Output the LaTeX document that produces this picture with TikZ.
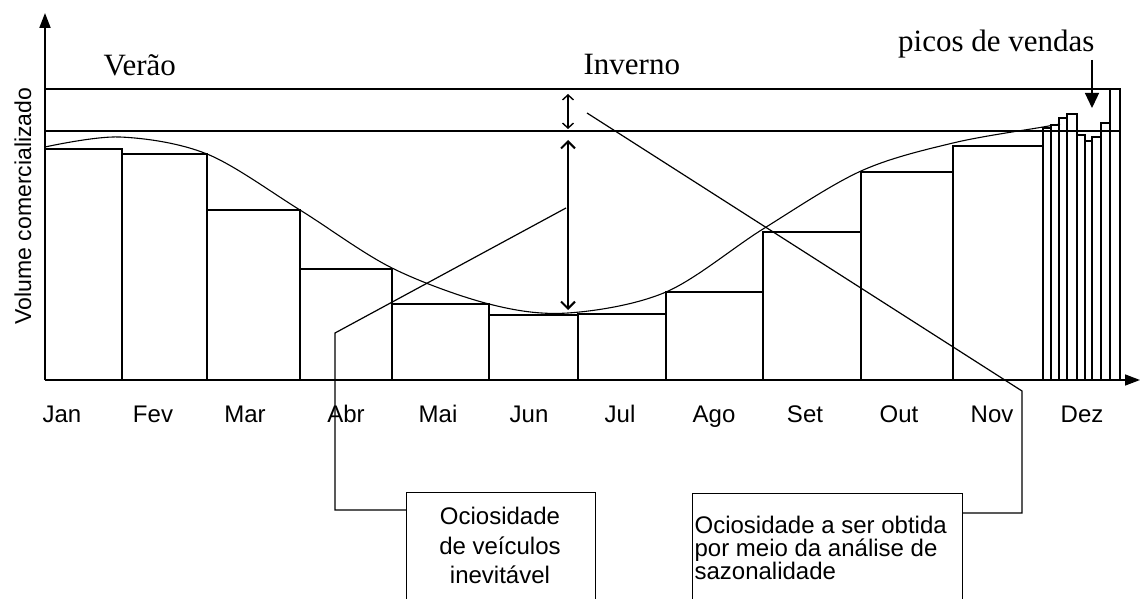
\documentclass[tikz,border=0pt]{standalone}
\usepackage{fontspec}
\setmainfont{Liberation Serif}
\setsansfont{Liberation Sans}
\usetikzlibrary{arrows.meta}
\begin{document}
\begin{tikzpicture}[x=1pt,y=-1pt,line width=1.2pt,
  month/.style={font=\fontsize{24}{24}\selectfont\sffamily,inner sep=0pt,anchor=base},
  boxline/.style={font=\fontsize{24}{24}\selectfont\sffamily,inner sep=0pt},
  season/.style={font=\fontsize{31}{31}\selectfont,inner sep=0pt},
  boxframe/.style={draw,line width=1.2pt,inner sep=0pt,anchor=north west},
  dbl/.style={{Straight Barb[length=5pt,width=11pt]}-{Straight Barb[length=5pt,width=11pt]}},
  tri/.style={-{Triangle[length=15pt,width=11pt]}}]
\useasboundingbox (0,0) rectangle (1140,599);
% bars
\foreach \a/\b/\t in {45/122/149,122/207/154,207/300/210,300/392/269,392/489/304,489/578/315,578/666/314,666/763/292,763/861/232,861/953/172,953/1043/146,1043/1051/128,1051/1059/125,1059/1067/118,1067/1077/114,1077/1085/135,1085/1092/141,1092/1101/137,1101/1110/123,1110/1120/89}
  \draw (\a,380) -- (\a,\t) -- (\b,\t) -- (\b,380);
% horizontal reference lines
\draw (45,89) -- (1120,89);
\draw (45,131) -- (1120,131);
% seasonal curve
\draw[line width=1.1pt] plot[smooth,tension=0.55] coordinates {(45,147) (120,137) (207,154) (300,210) (392,268) (489,304) (568,313) (666,292) (763,229) (861,171) (953,143) (1043,127) (1060,124)};
% axes
\coordinate (o) at (45,380);
\coordinate (ytop) at (45,13);
\coordinate (xend) at (1140,380);
\draw[line width=2pt,tri] (o) -- (ytop);
\draw[line width=1.5pt,tri] (o) -- (xend);
% double arrows
\coordinate (s1) at (568,94); \coordinate (s2) at (568,129);
\coordinate (g1) at (568,140); \coordinate (g2) at (568,310);
\draw[line width=1.4pt,dbl] (s1) -- (s2);
\draw[line width=2pt,{Straight Barb[length=7pt,width=14pt]}-{Straight Barb[length=7pt,width=14pt]}] (g1) -- (g2);
% labels
\node[season,anchor=base west] (verao) at (103,76) {Verão};
\node[season,anchor=base west] (inverno) at (583,75) {Inverno};
\node[season,anchor=base east] (picos) at (1095,52) {picos de vendas};
\coordinate (pa) at (1092,60); \coordinate (pb) at (1092,108);
\draw[line width=1.3pt,-{Triangle[length=15pt,width=14pt]}] (pa) -- (pb);
\node[font=\fontsize{23}{23}\selectfont\sffamily,rotate=90,inner sep=0pt] (ylab) at (23,206) {Volume comercializado};
% months
\foreach \x/\m in {62/Jan,153/Fev,245/Mar,346/Abr,438/Mai,529/Jun,620/Jul,714/Ago,805/Set,899/Out,992/Nov,1082/Dez}
  \node[month] at (\x,422) {\m};
% boxes
\node[boxframe,minimum width=189pt,minimum height=120pt] (b1) at (406,492) {};
\node[boxframe,minimum width=270pt,minimum height=120pt] (b2) at (692,493) {};
\node[boxline,anchor=base] (t11) at (500,524) {Ociosidade};
\node[boxline,anchor=base] (t12) at (500,554) {de veículos};
\node[boxline,anchor=base] (t13) at (500,583) {inevitável};
\node[boxline,anchor=base west] (t21) at (694,533) {Ociosidade a ser obtida};
\node[boxline,anchor=base west] (t22) at (694,556) {por meio da análise de};
\node[boxline,anchor=base west] (t23) at (694,579) {sazonalidade};
% connectors
\coordinate (a1) at (566,208); \coordinate (k1) at (335,333);
\draw (a1) -- (k1) |- ([yshift=-18pt]b1.north west);
\coordinate (a2) at (587,113); \coordinate (k2) at (1022,391);
\draw (a2) -- (k2) |- ([yshift=-20pt]b2.north east);
\end{tikzpicture}
\end{document}
